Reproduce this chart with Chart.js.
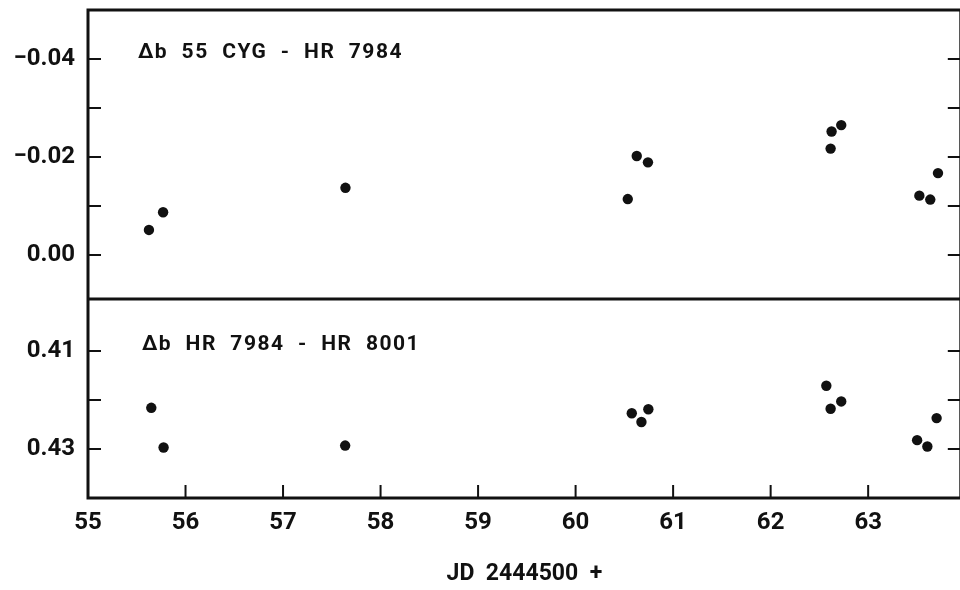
<!DOCTYPE html>
<html lang="en">
<head>
<meta charset="UTF-8">
<title>Delta b, 55 Cyg</title>
<script src="https://cdn.jsdelivr.net/npm/chart.js@4"></script>
<style>
  html, body { margin: 0; padding: 0; background: #fff; overflow: hidden; }
  #wrap { width: 960px; height: 590px; overflow: hidden; }
</style>
</head>
<body>
<div id="wrap"><canvas id="jdChart" width="966" height="590"></canvas></div>
<script>
// x values are JD - 2444500
const topJD = [55.625, 55.77, 57.64, 60.535, 60.627, 60.742, 62.615, 62.625, 62.724, 63.525, 63.637, 63.716];
const topDb = [-0.0051, -0.0087, -0.0137, -0.0114, -0.0202, -0.0189, -0.0217, -0.0252, -0.0265, -0.0121, -0.0113, -0.0167];
const botJD = [55.649, 55.775, 57.637, 60.576, 60.675, 60.746, 62.571, 62.615, 62.724, 63.502, 63.607, 63.702];
const botDb = [0.4216, 0.4297, 0.4293, 0.4227, 0.4245, 0.4219, 0.4171, 0.4218, 0.4203, 0.4282, 0.4295, 0.4237];

const xTicks = [55, 56, 57, 58, 59, 60, 61, 62, 63];
const topTicks = [-0.04, -0.03, -0.02, -0.01, 0.00];
const topLabels = ['\u22120.04', '', '\u22120.02', '', '0.00'];
const botTicks = [0.41, 0.42, 0.43];
const botLabels = ['0.41', '', '0.43'];
const topTitle = '\u0394b  55  CYG  -  HR  7984';
const botTitle = '\u0394b  HR  7984  -  HR  8001';
const xTitle = 'JD  2444500  +';

const FONT = "Roboto, 'Liberation Sans', sans-serif";
const INK = '#111';

// frame, divider, inward tick marks and panel captions
const framePlugin = {
    id: 'frame',
    afterDraw(chart) {
        const { ctx, chartArea: a, scales } = chart;
        const yT = scales.yTop, yB = scales.yBot, x = scales.x;
        const tl = 13;
        ctx.save();
        ctx.strokeStyle = INK;
        ctx.lineWidth = 3;
        ctx.strokeRect(a.left, a.top, a.right - a.left, a.bottom - a.top);
        ctx.beginPath();
        ctx.moveTo(a.left, yT.bottom);
        ctx.lineTo(a.right, yT.bottom);
        ctx.stroke();

        ctx.lineWidth = 2;
        ctx.beginPath();
        topTicks.forEach(v => {
            const p = yT.getPixelForValue(v);
            ctx.moveTo(a.left, p); ctx.lineTo(a.left + tl, p);
            ctx.moveTo(a.right, p); ctx.lineTo(a.right - tl, p);
        });
        botTicks.forEach(v => {
            const p = yB.getPixelForValue(v);
            ctx.moveTo(a.left, p); ctx.lineTo(a.left + tl, p);
            ctx.moveTo(a.right, p); ctx.lineTo(a.right - tl, p);
        });
        xTicks.forEach(v => {
            const p = x.getPixelForValue(v);
            ctx.moveTo(p, a.bottom); ctx.lineTo(p, a.bottom - tl);
        });
        ctx.stroke();

        ctx.fillStyle = INK;
        ctx.font = 'bold 21px ' + FONT;
        ctx.letterSpacing = '1.5px';
        ctx.textAlign = 'left';
        ctx.textBaseline = 'alphabetic';
        ctx.fillText(topTitle, a.left + 50, yT.getPixelForValue(-0.04) - 1);
        ctx.fillText(botTitle, a.left + 54, yB.getPixelForValue(0.41) - 1);
        ctx.restore();
    }
};

const fixTicks = list => scale => { scale.ticks = list.map(v => ({ value: v })); };
const noPad = s => { s.paddingTop = 0; s.paddingBottom = 0; s.paddingLeft = 0; s.paddingRight = 0; };

new Chart(document.getElementById('jdChart'), {
    type: 'scatter',
    data: {
        datasets: [
            {
                label: '55 Cyg - HR 7984',
                data: topJD.map((t, i) => ({ x: t, y: topDb[i] })),
                yAxisID: 'yTop',
                backgroundColor: INK,
                borderWidth: 0,
                pointRadius: 5.2
            },
            {
                label: 'HR 7984 - HR 8001',
                data: botJD.map((t, i) => ({ x: t, y: botDb[i] })),
                yAxisID: 'yBot',
                backgroundColor: INK,
                borderWidth: 0,
                pointRadius: 5.2
            }
        ]
    },
    options: {
        responsive: false,
        animation: false,
        layout: { padding: { top: 10, left: 0, right: 0, bottom: 0 } },
        plugins: { legend: { display: false }, tooltip: { enabled: false } },
        scales: {
            x: {
                type: 'linear',
                min: 55,
                max: 63.95,
                grid: { display: false, drawTicks: false },
                border: { display: false },
                afterBuildTicks: fixTicks(xTicks),
                afterFit: s => { s.height = 92; noPad(s); },
                ticks: {
                    color: INK,
                    padding: 11,
                    maxRotation: 0,
                    font: { family: FONT, size: 24, weight: 'bold' },
                    callback: v => String(v)
                },
                title: {
                    display: true,
                    text: xTitle,
                    color: INK,
                    padding: { top: 0, bottom: 2 },
                    font: { family: FONT, size: 23, weight: 'bold' }
                }
            },
            yTop: {
                type: 'linear',
                position: 'left',
                stack: 'panels',
                stackWeight: 289,
                weight: 2,
                reverse: true,
                min: -0.05,
                max: 0.009,
                grid: { display: false, drawTicks: false },
                border: { display: false },
                afterBuildTicks: fixTicks(topTicks),
                afterFit: s => { s.width = 88; noPad(s); },
                ticks: {
                    color: INK,
                    padding: 13,
                    font: { family: FONT, size: 24, weight: 'bold' },
                    callback: (v, i) => topLabels[i]
                }
            },
            yBot: {
                type: 'linear',
                position: 'left',
                stack: 'panels',
                stackWeight: 199,
                weight: 1,
                reverse: true,
                min: 0.3994,
                max: 0.44,
                grid: { display: false, drawTicks: false },
                border: { display: false },
                afterBuildTicks: fixTicks(botTicks),
                afterFit: s => { s.width = 88; noPad(s); },
                ticks: {
                    color: INK,
                    padding: 13,
                    font: { family: FONT, size: 24, weight: 'bold' },
                    callback: (v, i) => botLabels[i]
                }
            }
        }
    },
    plugins: [framePlugin]
});
</script>
</body>
</html>
